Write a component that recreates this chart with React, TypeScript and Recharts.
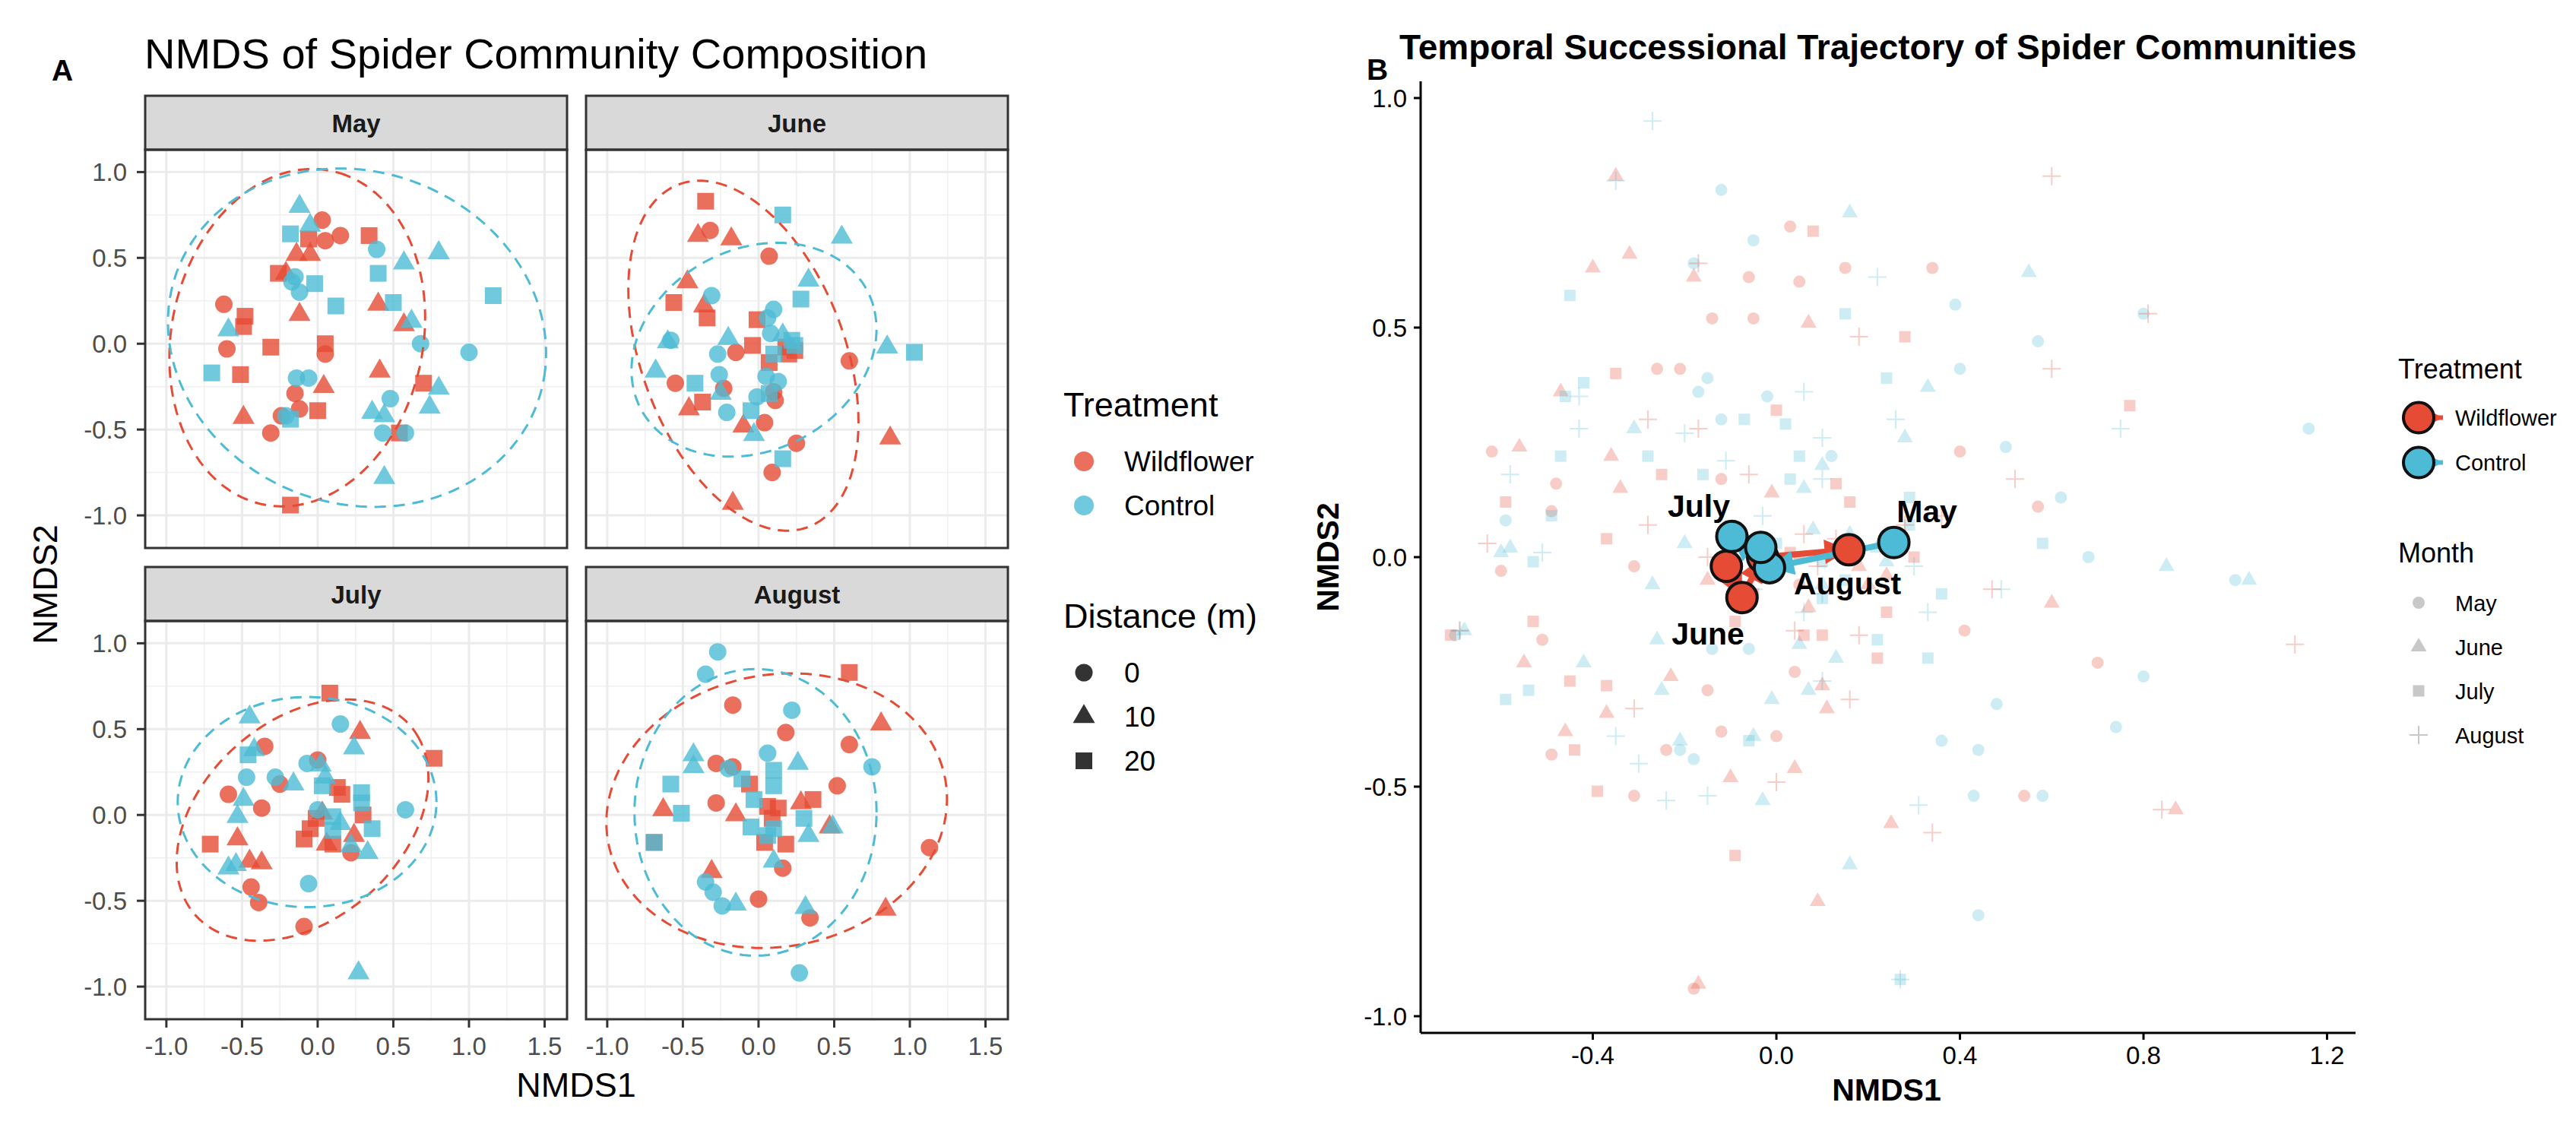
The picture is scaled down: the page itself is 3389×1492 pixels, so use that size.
import React from 'react';
import { ScatterChart, Scatter, XAxis, YAxis, CartesianGrid } from 'recharts';

// [NMDS1, NMDS2, distance (m)]
type Pt = [number, number, number];

const months = ['May', 'June', 'July', 'August'];
const distances = [0, 10, 20];

const mayWildflower: Pt[] = [
  [0.03, 0.72, 0], [0.15, 0.63, 0], [0.05, 0.6, 0], [-0.06, 0.61, 20], [0.34, 0.63, 20], [-0.14, 0.52, 10],
  [-0.05, 0.52, 10], [-0.26, 0.41, 20], [-0.21, 0.41, 10], [-0.62, 0.23, 0], [-0.48, 0.16, 20], [-0.49, 0.1, 20],
  [-0.12, 0.17, 10], [0.4, 0.23, 10], [0.57, 0.11, 10], [-0.6, -0.03, 0], [-0.31, -0.02, 20], [0.05, 0.0, 20],
  [0.05, -0.06, 0], [-0.51, -0.18, 20], [0.41, -0.16, 10], [0.7, -0.23, 20], [0.04, -0.25, 10], [-0.15, -0.29, 0],
  [-0.12, -0.38, 0], [0.0, -0.39, 20], [-0.49, -0.43, 10], [-0.24, -0.42, 0], [-0.31, -0.52, 0], [0.54, -0.52, 20],
  [-0.18, -0.94, 20],
];
const mayControl: Pt[] = [
  [-0.12, 0.8, 10], [-0.05, 0.69, 10], [-0.18, 0.64, 20], [0.39, 0.55, 0], [0.8, 0.53, 10], [0.57, 0.47, 10],
  [0.4, 0.41, 20], [-0.15, 0.39, 0], [-0.02, 0.35, 20], [-0.17, 0.36, 0], [-0.12, 0.3, 0], [0.12, 0.22, 20],
  [0.5, 0.24, 20], [1.16, 0.28, 20], [-0.59, 0.08, 10], [0.62, 0.13, 10], [0.68, 0.0, 0], [1.0, -0.05, 0],
  [-0.7, -0.17, 20], [-0.14, -0.2, 0], [-0.06, -0.2, 0], [0.8, -0.26, 10], [0.48, -0.32, 0], [0.36, -0.4, 10],
  [0.44, -0.42, 10], [0.74, -0.37, 10], [-0.21, -0.42, 0], [-0.18, -0.44, 20], [0.43, -0.52, 0], [0.58, -0.52, 0],
  [0.44, -0.78, 10],
];
const juneWildflower: Pt[] = [
  [-0.35, 0.83, 20], [-0.32, 0.66, 0], [-0.4, 0.63, 10], [-0.18, 0.61, 10], [0.07, 0.51, 0], [-0.47, 0.36, 10],
  [-0.56, 0.24, 20], [-0.36, 0.22, 10], [-0.34, 0.15, 20], [-0.01, 0.14, 20], [-0.04, -0.01, 20], [-0.15, -0.05, 0],
  [0.24, -0.04, 20], [0.18, -0.02, 20], [0.6, -0.1, 0], [0.07, -0.11, 20], [-0.55, -0.23, 0], [-0.37, -0.34, 20],
  [-0.46, -0.38, 10], [-0.23, -0.26, 0], [0.1, -0.28, 0], [0.11, -0.33, 0], [0.04, -0.46, 0], [-0.1, -0.48, 10],
  [0.25, -0.58, 0], [0.09, -0.75, 0], [0.87, -0.55, 10], [-0.17, -0.93, 10], [0.2, -0.06, 20],
];
const juneControl: Pt[] = [
  [0.16, 0.75, 20], [0.55, 0.62, 10], [0.33, 0.37, 10], [0.28, 0.26, 20], [-0.31, 0.28, 0], [-0.58, 0.02, 0],
  [-0.6, 0.01, 10], [-0.68, -0.16, 10], [-0.2, 0.03, 10], [-0.27, -0.06, 0], [-0.42, -0.23, 20], [-0.26, -0.18, 0],
  [-0.25, -0.29, 10], [-0.21, -0.4, 0], [-0.01, -0.31, 0], [-0.05, -0.39, 20], [-0.03, -0.53, 10], [0.16, -0.67, 20],
  [0.1, 0.2, 0], [0.06, 0.15, 0], [0.08, 0.06, 0], [0.16, 0.05, 10], [0.22, 0.02, 20], [0.24, -0.01, 20],
  [0.1, -0.06, 20], [0.05, -0.19, 0], [0.13, -0.22, 0], [0.07, -0.29, 20], [0.85, -0.02, 10], [1.03, -0.05, 20],
];
const julyWildflower: Pt[] = [
  [0.08, 0.71, 20], [0.28, 0.48, 10], [-0.35, 0.4, 0], [0.0, 0.32, 0], [-0.25, 0.18, 0], [-0.59, 0.12, 0],
  [-0.37, 0.04, 0], [0.13, 0.16, 20], [0.16, 0.12, 20], [0.77, 0.33, 20], [-0.01, -0.02, 20], [-0.05, -0.08, 20],
  [-0.09, -0.14, 20], [0.1, -0.17, 20], [0.3, 0.0, 20], [0.24, -0.12, 10], [0.22, -0.22, 0], [-0.71, -0.17, 20],
  [-0.53, -0.14, 10], [-0.45, -0.27, 10], [-0.37, -0.28, 10], [-0.44, -0.42, 0], [-0.39, -0.51, 0], [-0.09, -0.65, 0],
  [0.06, -0.17, 10], [0.03, 0.01, 10],
];
const julyControl: Pt[] = [
  [-0.45, 0.57, 10], [-0.46, 0.35, 20], [-0.42, 0.38, 10], [0.15, 0.53, 0], [0.24, 0.39, 10], [-0.47, 0.22, 0],
  [-0.28, 0.22, 0], [-0.16, 0.18, 10], [-0.07, 0.3, 0], [0.02, 0.29, 10], [0.03, 0.17, 20], [-0.49, 0.09, 10],
  [-0.53, -0.01, 10], [-0.54, -0.29, 10], [-0.59, -0.31, 10], [-0.06, -0.4, 0], [0.58, 0.03, 0], [0.29, 0.13, 20],
  [0.29, 0.07, 20], [0.1, -0.01, 20], [0.36, -0.08, 20], [0.33, -0.22, 10], [0.27, -0.92, 10], [0.0, 0.03, 0],
  [0.22, -0.18, 10], [0.1, -0.09, 20], [0.15, -0.05, 10], [0.05, 0.22, 10],
];
const augustWildflower: Pt[] = [
  [0.6, 0.83, 20], [-0.17, 0.64, 0], [0.81, 0.53, 10], [0.18, 0.48, 0], [0.6, 0.41, 0], [-0.28, 0.3, 0],
  [-0.17, 0.28, 0], [0.52, 0.17, 0], [-0.06, 0.18, 20], [-0.28, 0.07, 0], [-0.63, 0.03, 10], [-0.15, 0.0, 10],
  [0.06, 0.05, 20], [0.13, 0.04, 20], [0.28, 0.07, 10], [0.36, 0.09, 20], [0.04, -0.16, 20], [0.18, -0.17, 20],
  [0.47, -0.07, 10], [1.13, -0.19, 0], [0.16, -0.31, 0], [-0.31, -0.33, 10], [0.0, -0.49, 0], [0.34, -0.6, 0],
  [0.84, -0.55, 10], [-0.69, -0.16, 20], [0.09, -0.02, 20],
];
const augustControl: Pt[] = [
  [-0.27, 0.95, 0], [-0.35, 0.82, 0], [0.22, 0.61, 0], [0.06, 0.36, 0], [-0.43, 0.35, 10], [-0.43, 0.28, 10],
  [-0.2, 0.27, 0], [0.26, 0.3, 10], [0.75, 0.28, 0], [-0.58, 0.18, 20], [-0.11, 0.21, 20], [0.1, 0.26, 20],
  [0.1, 0.17, 20], [-0.03, 0.09, 20], [-0.51, 0.01, 20], [-0.05, -0.07, 20], [0.1, -0.08, 20], [0.3, -0.02, 20],
  [0.33, -0.12, 10], [0.49, -0.07, 10], [0.1, -0.27, 10], [-0.35, -0.39, 0], [-0.3, -0.45, 0], [-0.24, -0.53, 0],
  [-0.15, -0.52, 10], [0.31, -0.54, 10], [0.27, -0.92, 0], [-0.69, -0.16, 20], [0.06, -0.12, 20],
];

// 95% ellipses: [centre NMDS1, centre NMDS2, semi-axis a, semi-axis b, rotation (deg)]
const wildflowerEllipses = [
  [-0.135, 0.035, 1.0, 0.825, 71],
  [-0.1, -0.07, 1.088, 0.659, -64],
  [-0.1, -0.03, 0.905, 0.606, 32],
  [0.12, 0.025, 1.13, 0.794, 7],
];
const controlEllipses = [
  [0.26, 0.035, 1.258, 0.975, -10.5],
  [-0.03, -0.035, 0.829, 0.597, 18],
  [-0.07, 0.075, 0.855, 0.612, 0],
  [-0.02, 0.015, 0.8, 0.835, 0],
];

// month centroids (May, June, July, August)
const wildflowerCentroids = [[-0.109, -0.02], [-0.075, -0.088], [-0.03, 0.0], [0.158, 0.016]];
const controlCentroids = [[0.256, 0.032], [-0.015, -0.023], [-0.097, 0.045], [-0.034, 0.021]];
const monthLabelSpots = [
  { month: 'May', x: 0.328, y: 0.101 },
  { month: 'June', x: -0.149, y: -0.165 },
  { month: 'July', x: -0.169, y: 0.113 },
  { month: 'August', x: 0.155, y: -0.056 },
];

const xTicksA = [-1, -0.5, 0, 0.5, 1, 1.5];
const xMinorA = [-0.75, -0.25, 0.25, 0.75, 1.25];
const yTicksA = [-1, -0.5, 0, 0.5, 1];
const yMinorA = [-0.75, -0.25, 0.25, 0.75];
const xTicksB = [-0.4, 0, 0.4, 0.8, 1.2];
const yTicksB = [-1, -0.5, 0, 0.5, 1];

const RED = '#E64B35';
const BLUE = '#4DBBD5';
const FONT = '"Liberation Sans", Arial, Helvetica, sans-serif';

const PANEL_W = 555;
const PANEL_H = 524;
const COL_X = [191, 771];
const ROW_Y = [197, 817];
const STRIP_H = 71;
const Y_AXIS_W = 91;
const X_AXIS_H = 60;

const facetData = [
  [mayWildflower, mayControl],
  [juneWildflower, juneControl],
  [julyWildflower, julyControl],
  [augustWildflower, augustControl],
];

const toRows = (pts: Pt[]) => pts.map(([x, y, d]) => ({ x, y, d }));

const ellipseOutline = ([cx, cy, a, b, deg]: number[]) => {
  const r = (deg * Math.PI) / 180;
  const out = [];
  for (let i = 0; i <= 120; i++) {
    const t = (i / 120) * 2 * Math.PI;
    out.push({
      x: cx + a * Math.cos(t) * Math.cos(r) - b * Math.sin(t) * Math.sin(r),
      y: cy + a * Math.cos(t) * Math.sin(r) + b * Math.sin(t) * Math.cos(r),
    });
  }
  return out;
};

type Kind = 'circle' | 'triangle' | 'square' | 'plus';

const glyph = (kind: Kind, cx: number, cy: number, size: number, color: string, opacity: number) => {
  if (kind === 'circle') return <circle cx={cx} cy={cy} r={size / 2} fill={color} fillOpacity={opacity} />;
  if (kind === 'square')
    return <rect x={cx - size / 2} y={cy - size / 2} width={size} height={size} fill={color} fillOpacity={opacity} />;
  if (kind === 'triangle') {
    const h = size / Math.sqrt(3);
    const pts = `${cx},${cy - h} ${cx - size / 2},${cy + h / 2} ${cx + size / 2},${cy + h / 2}`;
    return <polygon points={pts} fill={color} fillOpacity={opacity} />;
  }
  const s = size / 2;
  return (
    <path d={`M${cx - s},${cy}H${cx + s}M${cx},${cy - s}V${cy + s}`} stroke={color} strokeOpacity={opacity} strokeWidth={2} />
  );
};

const distanceKind: Record<number, Kind> = { 0: 'circle', 10: 'triangle', 20: 'square' };
const sizeA: Record<Kind, number> = { circle: 23, triangle: 29, square: 22, plus: 24 };
const monthKind: Kind[] = ['circle', 'triangle', 'square', 'plus'];
const sizeB: Record<Kind, number> = { circle: 16, triangle: 21, square: 15, plus: 24 };

const facetShape = (color: string) => (p: any) =>
  glyph(distanceKind[p.payload.d], p.cx, p.cy, sizeA[distanceKind[p.payload.d]], color, 0.8);

const noMark = () => <g />;
const fmt = (v: number) => v.toFixed(1);

const Facet = ({ idx }: { idx: number }) => {
  const col = idx % 2;
  const row = Math.floor(idx / 2);
  const showY = col === 0;
  const showX = row === 1;
  const [wild, ctrl] = facetData[idx];
  const w = PANEL_W + (showY ? Y_AXIS_W : 0);
  const h = PANEL_H + (showX ? X_AXIS_H : 0);
  const tickLine = { stroke: '#333333', strokeWidth: 3 };
  return (
    <div style={{ position: 'absolute', left: COL_X[col] - (showY ? Y_AXIS_W : 0), top: ROW_Y[row] }}>
      <ScatterChart width={w} height={h} margin={{ top: 0, right: 0, bottom: 0, left: 0 }}>
        <CartesianGrid stroke="#F0F0F0" strokeWidth={1.5} horizontalValues={yMinorA} verticalValues={xMinorA} />
        <CartesianGrid stroke="#EBEBEB" strokeWidth={3} horizontalValues={yTicksA} verticalValues={xTicksA} />
        <XAxis type="number" dataKey="x" domain={[-1.14, 1.648]} ticks={xTicksA} allowDataOverflow hide={!showX}
          height={X_AXIS_H} interval={0} tickFormatter={fmt} axisLine={false} tickLine={tickLine} tickSize={11}
          tickMargin={13} tick={{ fill: '#4D4D4D', fontSize: 33 }} />
        <YAxis type="number" dataKey="y" domain={[-1.19, 1.13]} ticks={yTicksA} allowDataOverflow hide={!showY}
          width={Y_AXIS_W} interval={0} tickFormatter={fmt} axisLine={false} tickLine={tickLine} tickSize={11}
          tickMargin={13} tick={{ fill: '#4D4D4D', fontSize: 33 }} />
        <Scatter data={toRows(wild)} shape={facetShape(RED)} isAnimationActive={false} />
        <Scatter data={toRows(ctrl)} shape={facetShape(BLUE)} isAnimationActive={false} />
        <Scatter data={ellipseOutline(wildflowerEllipses[idx])} fill={RED} shape={noMark} lineJointType="linear"
          line={{ stroke: RED, strokeWidth: 3, strokeDasharray: '15 10', fill: 'none' }} isAnimationActive={false} />
        <Scatter data={ellipseOutline(controlEllipses[idx])} fill={BLUE} shape={noMark} lineJointType="linear"
          line={{ stroke: BLUE, strokeWidth: 3, strokeDasharray: '15 10', fill: 'none' }} isAnimationActive={false} />
      </ScatterChart>
    </div>
  );
};

const arrowLine = (color: string, marker: string) => (p: any) => {
  const pts = p.points || [];
  if (pts.length < 2) return <g />;
  return (
    <path d={`M${pts[0].x},${pts[0].y}L${pts[1].x},${pts[1].y}`} stroke={color} strokeWidth={8} fill="none"
      markerEnd={`url(#${marker})`} />
  );
};

const centroidShape = (color: string) => (p: any) => (
  <circle cx={p.cx} cy={p.cy} r={20} fill={color} stroke="#111111" strokeWidth={4} />
);

const TrajectoryPanel = () => {
  const axisLine = { stroke: '#000000', strokeWidth: 3 };
  const segments = (cents: number[][]) =>
    [0, 1, 2].map((i) => [
      { x: cents[i][0], y: cents[i][1] },
      { x: cents[i + 1][0], y: cents[i + 1][1] },
    ]);
  return (
    <div style={{ position: 'absolute', left: 1760, top: 107 }}>
      <ScatterChart width={1339} height={1322} margin={{ top: 0, right: 0, bottom: 0, left: 0 }}>
        <XAxis type="number" dataKey="x" domain={[-0.7752, 1.2621]} ticks={xTicksB} allowDataOverflow height={70}
          interval={0} tickFormatter={fmt} axisLine={axisLine} tickLine={axisLine} tickSize={9} tickMargin={9}
          tick={{ fill: '#000000', fontSize: 33 }} />
        <YAxis type="number" dataKey="y" domain={[-1.0364, 1.0364]} ticks={yTicksB} allowDataOverflow width={109}
          interval={0} tickFormatter={fmt} axisLine={axisLine} tickLine={axisLine} tickSize={9} tickMargin={9}
          tick={{ fill: '#000000', fontSize: 33 }} />
        {facetData.map(([wild, ctrl], m) =>
          [
            [wild, RED],
            [ctrl, BLUE],
          ].map(([pts, color], t) => (
            <Scatter key={`${m}-${t}`} data={toRows(pts as Pt[])} isAnimationActive={false}
              shape={(p: any) => glyph(monthKind[m], p.cx, p.cy, sizeB[monthKind[m]], color as string, 0.28)} />
          ))
        )}
        {segments(wildflowerCentroids).map((seg, i) => (
          <Scatter key={`ws${i}`} data={seg} fill={RED} shape={noMark} line={arrowLine(RED, 'arrowRed')}
            isAnimationActive={false} />
        ))}
        {segments(controlCentroids).map((seg, i) => (
          <Scatter key={`cs${i}`} data={seg} fill={BLUE} shape={noMark} line={arrowLine(BLUE, 'arrowBlue')}
            isAnimationActive={false} />
        ))}
        <Scatter data={wildflowerCentroids.map(([x, y]) => ({ x, y }))} shape={centroidShape(RED)}
          isAnimationActive={false} />
        <Scatter data={controlCentroids.map(([x, y]) => ({ x, y }))} shape={centroidShape(BLUE)}
          isAnimationActive={false} />
        <Scatter data={monthLabelSpots} isAnimationActive={false}
          shape={(p: any) => (
            <text x={p.cx} y={p.cy + 15} textAnchor="middle" fontSize={41} fontWeight="bold" fill="#000000">
              {p.payload.month}
            </text>
          )} />
      </ScatterChart>
    </div>
  );
};

const Overlay = () => (
  <svg width={3389} height={1492} style={{ position: 'absolute', left: 0, top: 0, pointerEvents: 'none' }}>
    <defs>
      <marker id="arrowRed" viewBox="0 0 10 10" refX="10" refY="5" markerWidth="40" markerHeight="32"
        markerUnits="userSpaceOnUse" orient="auto">
        <path d="M0,0L10,5L0,10z" fill={RED} />
      </marker>
      <marker id="arrowBlue" viewBox="0 0 10 10" refX="10" refY="5" markerWidth="40" markerHeight="32"
        markerUnits="userSpaceOnUse" orient="auto">
        <path d="M0,0L10,5L0,10z" fill={BLUE} />
      </marker>
    </defs>

    {/* panel A titles */}
    <text x={68} y={106} fontSize={39} fontWeight="bold">A</text>
    <text x={190} y={90} fontSize={56}>NMDS of Spider Community Composition</text>

    {months.map((m, i) => {
      const x = COL_X[i % 2];
      const y = ROW_Y[Math.floor(i / 2)];
      return (
        <g key={m}>
          <rect x={x} y={y - STRIP_H} width={PANEL_W} height={STRIP_H} fill="#D9D9D9" stroke="#333333" strokeWidth={3} />
          <text x={x + PANEL_W / 2} y={y - STRIP_H / 2 + 12} textAnchor="middle" fontSize={33} fontWeight="bold"
            fill="#1A1A1A">{m}</text>
          <rect x={x} y={y} width={PANEL_W} height={PANEL_H} fill="none" stroke="#333333" strokeWidth={3} />
        </g>
      );
    })}
    <text x={758} y={1443} textAnchor="middle" fontSize={45}>NMDS1</text>
    <text x={59} y={785} textAnchor="middle" fontSize={45} transform="rotate(-90 59 769)">NMDS2</text>

    {/* panel A legends */}
    <text x={1399} y={548} fontSize={45}>Treatment</text>
    {['Wildflower', 'Control'].map((t, i) => (
      <g key={t}>
        {glyph('circle', 1426, 607 + i * 58, 26, i === 0 ? RED : BLUE, 0.8)}
        <text x={1479} y={620 + i * 58} fontSize={37}>{t}</text>
      </g>
    ))}
    <text x={1399} y={826} fontSize={45}>Distance (m)</text>
    {distances.map((d, i) => (
      <g key={d}>
        {glyph(distanceKind[d], 1426, 885 + i * 58, sizeA[distanceKind[d]], '#000000', 0.8)}
        <text x={1479} y={898 + i * 58} fontSize={37}>{d}</text>
      </g>
    ))}

    {/* panel B titles */}
    <text x={1798} y={105} fontSize={39} fontWeight="bold">B</text>
    <text x={1841} y={78} fontSize={46} fontWeight="bold">Temporal Successional Trajectory of Spider Communities</text>
    <text x={2482} y={1448} textAnchor="middle" fontSize={41} fontWeight="bold">NMDS1</text>
    <text x={1746} y={748} textAnchor="middle" fontSize={41} fontWeight="bold" transform="rotate(-90 1746 733)">NMDS2</text>

    {/* panel B legends */}
    <text x={3155} y={498} fontSize={36}>Treatment</text>
    {['Wildflower', 'Control'].map((t, i) => {
      const cy = 549.5 + i * 59;
      const color = i === 0 ? RED : BLUE;
      return (
        <g key={t}>
          <path d={`M${3160},${cy}L${3214},${cy}`} stroke={color} strokeWidth={6} markerEnd={`url(#${i === 0 ? 'arrowRed' : 'arrowBlue'})`} />
          <circle cx={3182} cy={cy} r={20} fill={color} stroke="#111111" strokeWidth={4} />
          <text x={3230} y={cy + 10.5} fontSize={29}>{t}</text>
        </g>
      );
    })}
    <text x={3155} y={740} fontSize={36}>Month</text>
    {months.map((m, i) => {
      const cy = 793 + i * 58;
      return (
        <g key={m}>
          {glyph(monthKind[i], 3182, cy, sizeB[monthKind[i]], '#BEBEBE', 0.85)}
          <text x={3230} y={cy + 10.5} fontSize={29}>{m}</text>
        </g>
      );
    })}
  </svg>
);

const App: React.FC = () => {
  return (
    <div style={{ position: 'absolute', left: 0, top: 0, width: 3389, height: 1492, background: '#FFFFFF', fontFamily: FONT, overflow: 'hidden' }}>
      {[0, 1, 2, 3].map((i) => (
        <Facet key={i} idx={i} />
      ))}
      <TrajectoryPanel />
      <Overlay />
    </div>
  );
};

export default App;
